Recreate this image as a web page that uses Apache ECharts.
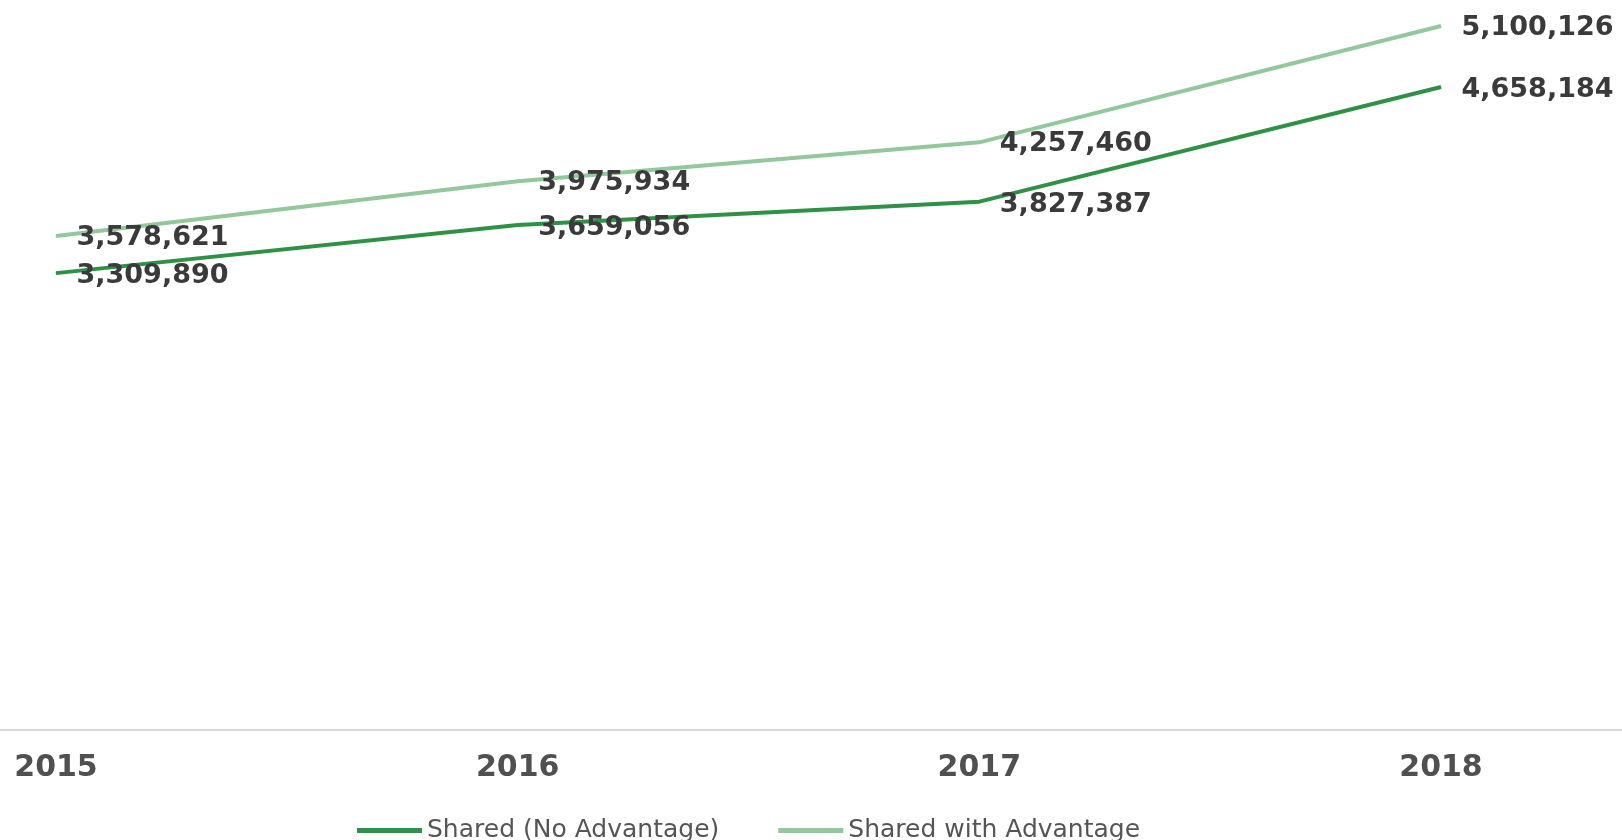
<!DOCTYPE html>
<html>
<head>
<meta charset="utf-8">
<script src="https://cdn.jsdelivr.net/npm/echarts@6/dist/echarts.min.js"></script>
<style>
html,body{margin:0;padding:0;background:#fff;}
#chart{width:1622px;height:840px;}
</style>
</head>
<body>
<div id="chart"></div>
<script>
const years = ['2015', '2016', '2017', '2018'];
const seriesNames = ['Shared (No Advantage)', 'Shared with Advantage'];
const noAdvantage = [3309890, 3659056, 3827387, 4658184];
const withAdvantage = [3578621, 3975934, 4257460, 5100126];

const chart = echarts.init(document.getElementById('chart'));
const labelStyle = {
  show: true,
  position: 'right',
  distance: 20,
  fontFamily: 'DejaVu Sans',
  fontWeight: 'bold',
  fontSize: 27,
  color: '#3a3a3a',
  formatter: p => p.value.toLocaleString('en-US')
};
chart.setOption({
  animation: false,
  backgroundColor: '#ffffff',
  grid: [
    { left: 56, right: 181, top: 26, bottom: 110, containLabel: false },
    { left: 0, right: 0, top: 26, bottom: 110, containLabel: false }
  ],
  legend: {
    left: 352,
    top: 813,
    icon: 'rect',
    itemWidth: 65,
    itemHeight: 5,
    itemGap: 59,
    textStyle: { fontFamily: 'DejaVu Sans', fontSize: 25, color: '#555555' },
    data: seriesNames
  },
  xAxis: [
    {
      type: 'category',
      gridIndex: 0,
      data: years,
      boundaryGap: false,
      axisLine: { show: false },
      axisTick: { show: false },
      axisLabel: { fontFamily: 'DejaVu Sans', fontWeight: 'bold', fontSize: 30, color: '#505050', margin: 23 }
    },
    {
      type: 'category',
      gridIndex: 1,
      data: years,
      boundaryGap: false,
      axisLine: { show: true, lineStyle: { color: '#d9d9d9', width: 2 } },
      axisTick: { show: false },
      axisLabel: { show: false }
    }
  ],
  yAxis: [
    { type: 'value', gridIndex: 0, min: 0, max: 'dataMax', show: false, splitLine: { show: false } },
    { type: 'value', gridIndex: 1, min: 0, max: 1, show: false, splitLine: { show: false } }
  ],
  series: [
    {
      name: seriesNames[0],
      type: 'line',
      data: noAdvantage,
      symbol: 'circle',
      symbolSize: 1,
      color: '#2e9145',
      lineStyle: { width: 4, color: '#2e9145' },
      itemStyle: { color: '#2e9145' },
      label: Object.assign({}, labelStyle, { offset: [0, 3] })
    },
    {
      name: seriesNames[1],
      type: 'line',
      data: withAdvantage,
      symbol: 'circle',
      symbolSize: 1,
      color: '#93c89c',
      lineStyle: { width: 4, color: '#93c89c' },
      itemStyle: { color: '#93c89c' },
      label: Object.assign({}, labelStyle, { offset: [0, 2] })
    }
  ]
});
</script>
</body>
</html>
